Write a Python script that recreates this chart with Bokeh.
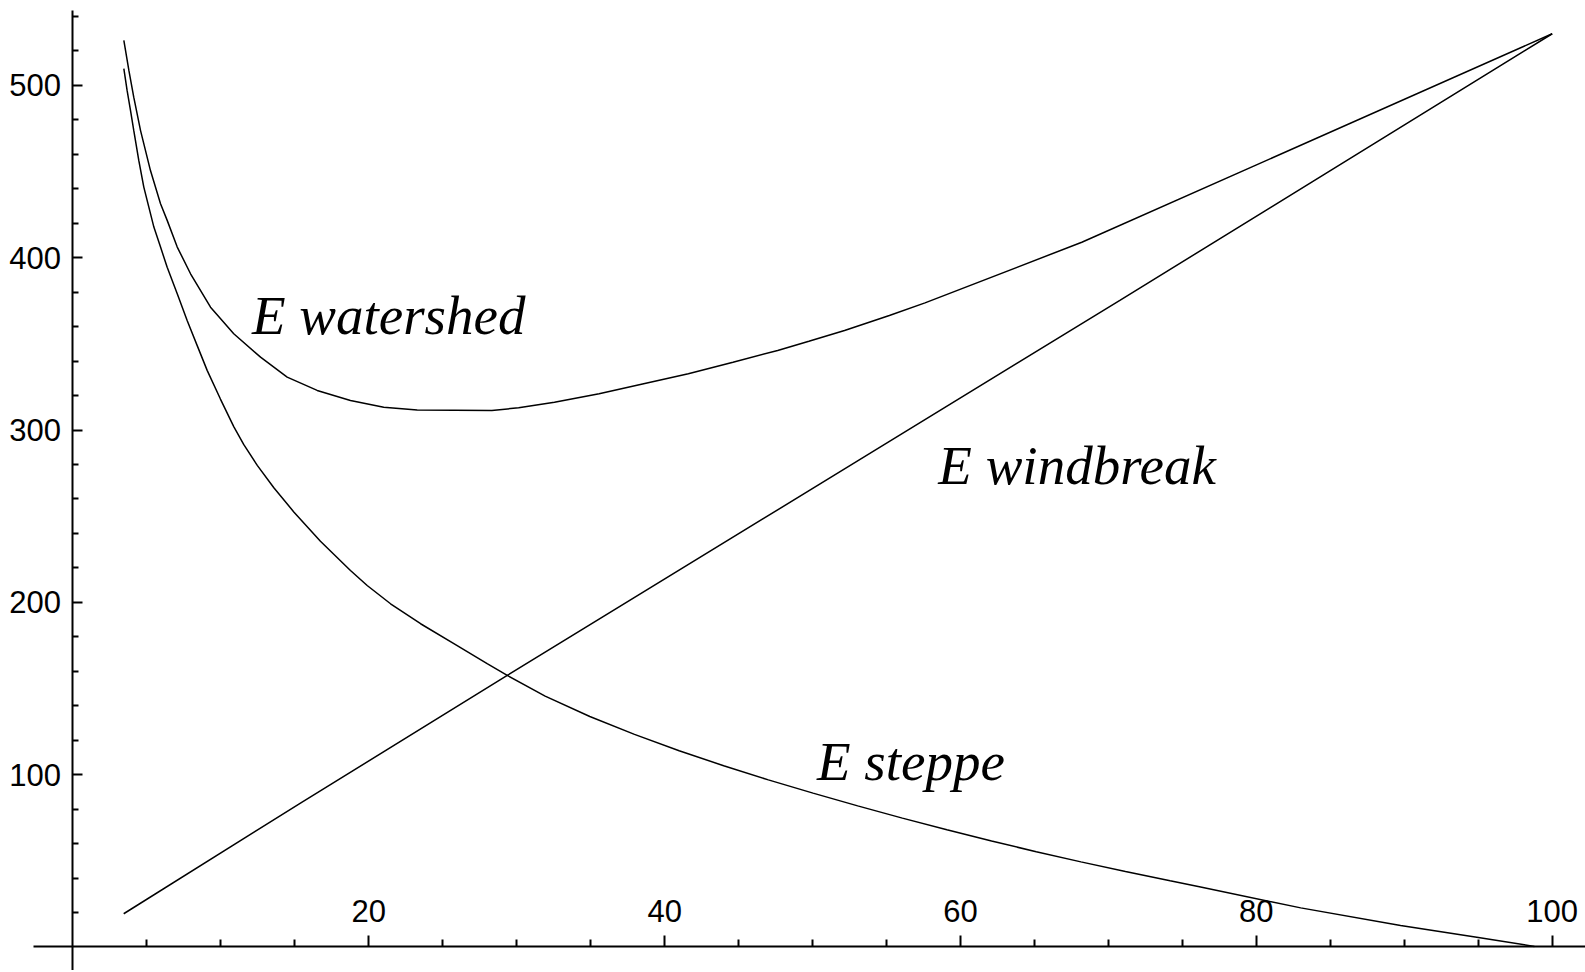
from bokeh.plotting import figure
from bokeh.models import FixedTicker, Range1d
from bokeh.embed import file_html
from bokeh.resources import INLINE
from bokeh.core.properties import value

# ---- data ----
steppe_x = [3.44, 3.66, 3.89, 4.11, 4.45, 4.79, 5.13, 5.47, 5.92, 6.37, 7.05, 7.72,
            8.40, 9.08, 9.97, 10.87, 11.55, 12.46, 13.58, 14.93, 16.73, 18.76, 19.89,
            21.47, 23.50, 25.75, 28.0, 29.36, 31.92, 34.94, 37.96, 40.98, 43.99, 47.01,
            50.03, 53.05, 56.07, 59.08, 62.10, 65.12, 68.14, 71.15, 74.17, 76.23, 83.0,
            89.75, 94.9, 98.8]
steppe_y = [509.7, 497.1, 485.5, 473.9, 456.5, 441.0, 429.4, 417.8, 406.2, 394.5, 379.1, 363.6,
            349.0, 334.5, 318.0, 302.0, 291.5, 279.5, 266.5, 252.5, 235.5, 218.5, 209.8,
            199.2, 187.6, 176.0, 164.4, 157.6, 145.6, 133.8, 123.4, 113.9, 105.2, 97.0,
            89.3, 81.9, 74.8, 68.0, 61.5, 55.3, 49.4, 43.8, 38.4, 34.8, 22.7,
            12.5, 5.7, 0.3]

windbreak_x = [3.43, 15.38, 29.36, 53.1, 70.8, 100.0]
windbreak_y = [19.3, 83.5, 157.6, 282.4, 375.4, 530.0]

watershed_x = [3.44, 3.78, 4.11, 4.57, 5.24, 5.92, 6.37, 7.05, 7.95, 9.30, 10.87, 12.68,
               14.48, 16.51, 18.76, 21.01, 23.27, 28.32, 30.13, 32.55, 35.57, 38.58, 41.6,
               44.62, 47.64, 49.75, 52.16, 55.19, 57.6, 68.2, 100.0]
watershed_y = [526.1, 508.7, 493.2, 473.8, 450.6, 431.3, 421.7, 406.2, 390.7, 371.3, 355.9, 342.3,
               330.7, 323.0, 317.2, 313.3, 311.6, 311.4, 312.9, 316.2, 321.1, 326.9, 332.7,
               339.4, 346.2, 351.5, 357.8, 366.5, 373.8, 409.0, 530.0]

x_major = [20, 40, 60, 80, 100]
x_minor = [5, 10, 15, 25, 30, 35, 45, 50, 55, 65, 70, 75, 85, 90, 95]
y_major = [100, 200, 300, 400, 500]
y_minor = [20, 40, 60, 80, 120, 140, 160, 180, 220, 240, 260, 280,
           320, 340, 360, 380, 420, 440, 460, 480, 520, 540]

labels = ["E watershed", "E windbreak", "E steppe"]

# ---- figure ----
p = figure(width=1585, height=970,
           x_range=Range1d(-4.898, 102.25), y_range=Range1d(-13.64, 549.3),
           output_backend="svg", toolbar_location=None,
           x_axis_location="above", y_axis_location="left", min_border=0)
p.outline_line_color = None
p.grid.visible = False
p.background_fill_color = "white"
p.border_fill_color = "white"

p.xaxis.fixed_location = 0
p.yaxis.fixed_location = 0
p.xaxis.bounds = (-2.67, 103)
p.yaxis.bounds = (-13.64, 543.5)

p.xaxis.ticker = FixedTicker(ticks=x_major, minor_ticks=x_minor)
p.yaxis.ticker = FixedTicker(ticks=y_major, minor_ticks=y_minor)

for ax in p.axis:
    ax.axis_line_width = 2
    ax.axis_line_color = "black"
    ax.major_tick_line_width = 2
    ax.minor_tick_line_width = 2
    ax.major_tick_line_color = "black"
    ax.minor_tick_line_color = "black"
    ax.major_label_text_font = "Liberation Sans"
    ax.major_label_text_font_size = "31px"
    ax.major_label_text_color = "black"

p.xaxis.major_tick_out = 11
p.xaxis.major_tick_in = 0
p.xaxis.minor_tick_out = 7
p.xaxis.minor_tick_in = 0
p.xaxis.major_label_standoff = 14

p.yaxis.major_tick_out = 0
p.yaxis.major_tick_in = 10
p.yaxis.minor_tick_out = 0
p.yaxis.minor_tick_in = 6
p.yaxis.major_label_standoff = 12

p.line(watershed_x, watershed_y, line_color="black", line_width=1.5)
p.line(windbreak_x, windbreak_y, line_color="black", line_width=1.5)
p.line(steppe_x, steppe_y, line_color="black", line_width=1.5)

p.text(x=[12.1, 58.5, 50.3], y=[366.5, 279.5, 107.5], text=labels,
       text_font=value("Liberation Serif"), text_font_style="italic",
       text_font_size="55px", text_color="black",
       text_baseline="alphabetic", text_align="left")

open("out.html", "w").write(file_html(p, INLINE))
